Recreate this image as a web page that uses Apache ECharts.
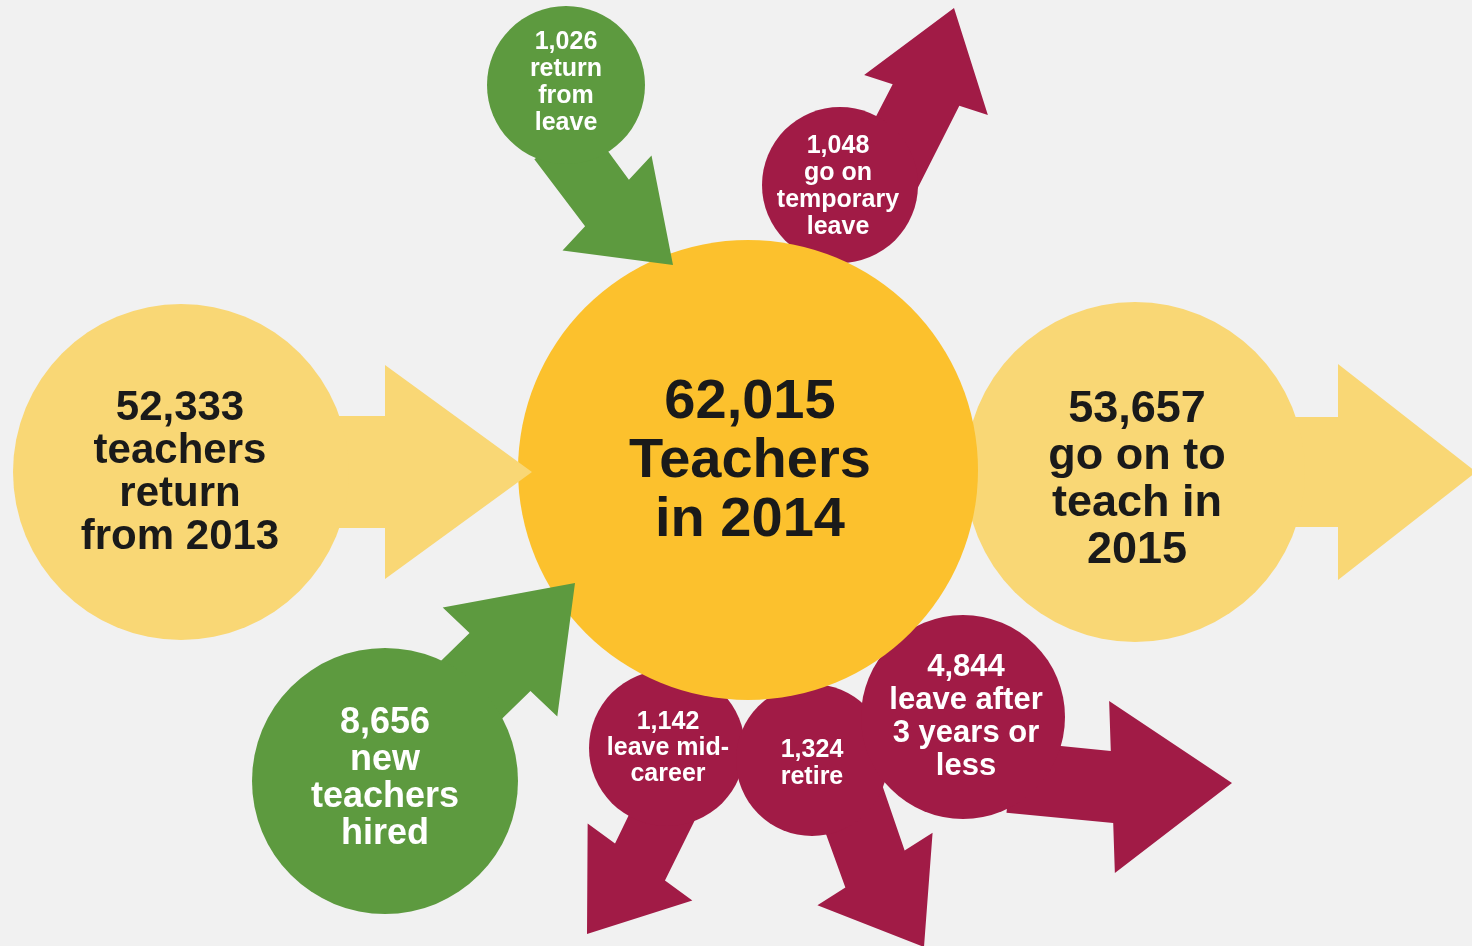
<!DOCTYPE html>
<html>
<head>
<meta charset="utf-8">
<script src="https://cdn.jsdelivr.net/npm/echarts@6/dist/echarts.min.js"></script>
<style>
    html, body { margin: 0; padding: 0; background: #f1f1f1; }
    #chart { width: 1472px; height: 946px; }
</style>
</head>
<body>
<div id="chart"></div>
<script>
// teacher flows around the 2014 total (order = drawing order, back to front)
var counts = [1142, 1324, 4844, 1048, 53657, 62015, 52333, 1026, 8656];
var captions = [
    ['leave mid-', 'career'],
    ['retire'],
    ['leave after', '3 years or', 'less'],
    ['go on', 'temporary', 'leave'],
    ['go on to', 'teach in', '2015'],
    ['Teachers', 'in 2014'],
    ['teachers', 'return', 'from 2013'],
    ['return', 'from', 'leave'],
    ['new', 'teachers', 'hired']
];

// layout, in the units of the hidden axes (0..1472 x 0..946)
var bubbleX = [667, 812, 963, 840, 1135, 748, 181, 566, 385];
var bubbleY = [748, 760, 717, 185, 472, 470, 472, 85, 781];
var bubbleR = [78, 76, 102, 78, 170, 230, 168, 79, 133];
var textX = [668, 812, 966, 838, 1137, 750, 180, 566, 385];
var textY = [748, 764, 716.5, 187, 480, 462, 473, 82.5, 779];
var fontSize = [25, 25, 31, 25, 45, 56, 42, 25, 36];
var lineGap = [26, 27, 33, 27, 47, 59, 43, 27, 37];
// [tail, head base, tip, shaft half width, head half width]
var arrows = [
    [[690, 760], [640, 862], [587, 934], 31, 65],
    [[840, 770], [875, 869], [924, 947], 35, 68],
    [[1010, 777], [1112, 787], [1232, 783], 36, 86],
    [[880, 185], [926, 95], [954, 8], 35, 65],
    [[1250, 472], [1338, 472], [1476, 472], 55, 108],
    null,
    [[300, 472], [385, 472], [532, 472], 56, 107],
    [[560, 140], [607, 203], [673, 265], 32, 65],
    [[420, 740], [500, 662], [575, 583], 42, 79]
];
var fills = ['#a11b46', '#a11b46', '#a11b46', '#a11b46', '#f9d775', '#fcc12d', '#f9d775', '#5d9a3f', '#5d9a3f'];
var inks = ['#fff', '#fff', '#fff', '#fff', '#1a1a1a', '#1a1a1a', '#1a1a1a', '#fff', '#fff'];

function unit(a, b) {
    var dx = b[0] - a[0], dy = b[1] - a[1];
    var l = Math.sqrt(dx * dx + dy * dy);
    return [dx / l, dy / l];
}

function arrowPoints(a, api) {
    var tail = a[0], base = a[1], tip = a[2], sh = a[3], hh = a[4];
    var hd = unit(base, tip), sd = unit(tail, base);
    var hp = [-hd[1], hd[0]], sp = [-sd[1], sd[0]];
    var pts = [
        [tail[0] + sp[0] * sh, tail[1] + sp[1] * sh],
        [base[0] + hp[0] * sh, base[1] + hp[1] * sh],
        [base[0] + hp[0] * hh, base[1] + hp[1] * hh],
        tip,
        [base[0] - hp[0] * hh, base[1] - hp[1] * hh],
        [base[0] - hp[0] * sh, base[1] - hp[1] * sh],
        [tail[0] - sp[0] * sh, tail[1] - sp[1] * sh]
    ];
    return pts.map(function (p) { return api.coord(p); });
}

var myChart = echarts.init(document.getElementById('chart'));

var option = {
    backgroundColor: '#f1f1f1',
    animation: false,
    grid: { left: 0, right: 0, top: 0, bottom: 0 },
    xAxis: { type: 'value', min: 0, max: 1472, show: false },
    yAxis: { type: 'value', min: 0, max: 946, inverse: true, show: false },
    series: [{
        // bubbles with their arrows
        type: 'custom',
        clip: false,
        silent: true,
        data: counts.map(function (c, i) { return [bubbleX[i], bubbleY[i], i]; }),
        renderItem: function (params, api) {
            var i = api.value(2);
            var c = api.coord([api.value(0), api.value(1)]);
            var r = api.size([bubbleR[i], 0])[0];
            var children = [];
            if (arrows[i]) {
                children.push({
                    type: 'polygon',
                    shape: { points: arrowPoints(arrows[i], api) },
                    style: { fill: fills[i] }
                });
            }
            children.push({
                type: 'circle',
                shape: { cx: c[0], cy: c[1], r: r },
                style: { fill: fills[i] }
            });
            return { type: 'group', children: children };
        }
    }, {
        // labels on top of everything
        type: 'custom',
        clip: false,
        silent: true,
        data: counts.map(function (c, i) { return [textX[i], textY[i], i]; }),
        renderItem: function (params, api) {
            var i = api.value(2);
            var p = api.coord([api.value(0), api.value(1)]);
            var lines = [counts[i].toLocaleString('en-US')].concat(captions[i]);
            return {
                type: 'text',
                x: p[0],
                y: p[1],
                style: {
                    text: lines.join('\n'),
                    fill: inks[i],
                    fontFamily: '"Liberation Sans", Arial, sans-serif',
                    fontWeight: 'bold',
                    fontSize: fontSize[i],
                    lineHeight: lineGap[i],
                    align: 'center',
                    verticalAlign: 'middle'
                }
            };
        }
    }]
};

myChart.setOption(option);
window.onresize = myChart.resize;
</script>
</body>
</html>
